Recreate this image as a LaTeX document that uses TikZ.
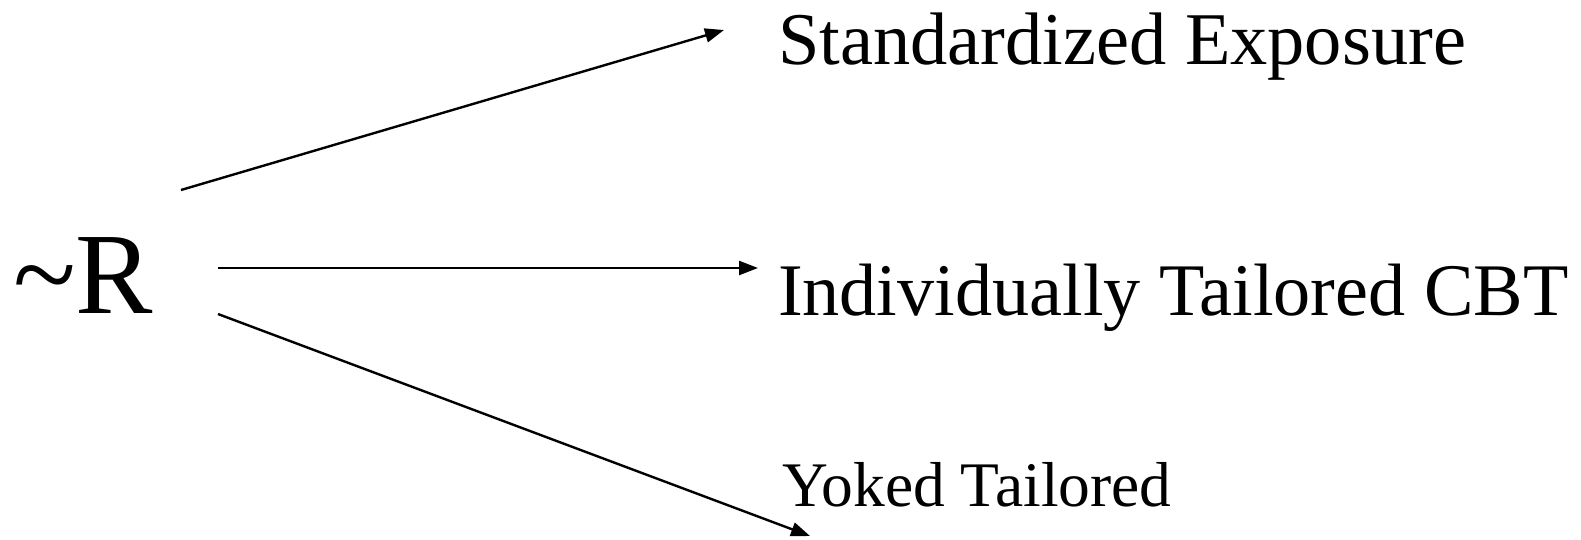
\documentclass[tikz,border=0pt]{standalone}
\usepackage{fontspec}
\setmainfont{Liberation Serif}
\usetikzlibrary{arrows.meta}
\begin{document}
\begin{tikzpicture}[x=1pt,y=-1pt,
  conn/.style={line width=2.4pt,-{Triangle[length=19pt,width=14pt]}},
  lbl/.style={anchor=base west,inner sep=0pt,outer sep=0pt}]
\useasboundingbox (0,0) rectangle (1581,539);
\node[lbl,font=\fontsize{116}{120}\selectfont] (r) at (13,313) {\char`\~R};
\node[lbl,font=\fontsize{74.4}{80}\selectfont] (se) at (778,64) {Standardized Exposure};
\node[lbl,font=\fontsize{74.2}{80}\selectfont] (itc) at (778,315) {Individually Tailored CBT};
\node[lbl,font=\fontsize{63.5}{70}\selectfont] (yt) at (782,506) {Yoked Tailored};
\coordinate (a1s) at (181,190);
\coordinate (a1e) at (724,30);
\coordinate (a2s) at (218,268);
\coordinate (a2e) at (758,268);
\coordinate (a3s) at (218,314);
\coordinate (a3e) at (810,536);
\draw[conn] (a1s) -- (a1e);
\draw[conn] (a2s) -- (a2e);
\draw[conn] (a3s) -- (a3e);
\end{tikzpicture}
\end{document}
